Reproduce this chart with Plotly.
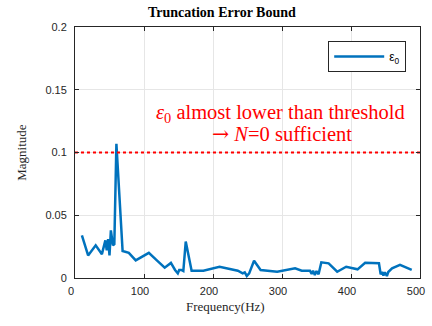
import plotly.graph_objects as go

# Truncation error bound epsilon_0 versus frequency
freq = [10, 19, 30, 39, 44, 46, 48, 50, 52, 55, 57, 60, 69, 78, 88, 107,
        119, 130, 139, 142, 145, 149, 151, 154, 157, 160.5, 169, 186, 209.5,
        236, 243, 246, 249, 252.4, 259.5, 269, 293, 319, 328.6, 340.5, 343,
        345, 347.6, 350, 353, 357, 367.6, 380, 393, 409.5, 420.5, 440.5, 443,
        445, 447, 449, 452, 454, 459.5, 471, 488]
eps0 = [0.034, 0.018, 0.026, 0.019, 0.030, 0.022, 0.031, 0.018, 0.038, 0.026,
        0.027, 0.107, 0.0215, 0.020, 0.014, 0.020, 0.0138, 0.0082, 0.012,
        0.0085, 0.0064, 0.0037, 0.0064, 0.0064, 0.0055, 0.029, 0.0058, 0.0058,
        0.009, 0.0058, 0.0037, 0.0045, 0.0016, 0.0037, 0.0138, 0.0064, 0.005,
        0.0077, 0.0058, 0.0058, 0.0032, 0.0058, 0.0024, 0.0055, 0.0030, 0.0125,
        0.0117, 0.005, 0.009, 0.0069, 0.0122, 0.0117, 0.003, 0.0048, 0.002,
        0.0045, 0.0016, 0.0048, 0.0077, 0.0104, 0.0064]

threshold = 0.1
x_ticks = [0, 100, 200, 300, 400, 500]
y_ticks = [0, 0.05, 0.1, 0.15, 0.2]
y_tick_text = ["0", "0.05", "0.1", "0.15", "0.2"]

AX = "#262626"
TIMES = "Liberation Serif, Times New Roman, serif"
SANS = "Liberation Sans, Arial, Helvetica, sans-serif"

# plot area in pixels: x 75..425, y 27..278
L, R, T, B = 75, 425, 27, 278


def px_x(p):
    return (p - L) / (R - L)


def px_y(p):
    return (B - p) / (B - T)


fig = go.Figure()
fig.add_trace(go.Scatter(
    x=freq, y=eps0, mode="lines", name="\u03b5<sub>0</sub>",
    line=dict(color="#0072BD", width=2.5),
))
fig.add_trace(go.Scatter(
    x=[0, 500], y=[threshold, threshold], mode="lines", showlegend=False,
    line=dict(color="#FF0000", width=2, dash="3px,3px"),
))

red = dict(family=TIMES, size=20.5, color="#FF0000")
fig.add_annotation(x=px_x(283), y=px_y(113), xref="paper", yref="paper",
                   xanchor="center", yanchor="middle", showarrow=False,
                   text="<i>\u03b5</i><sub>0</sub> almost lower than threshold", font=red)
fig.add_annotation(x=px_x(285), y=px_y(134), xref="paper", yref="paper",
                   xanchor="center", yanchor="middle", showarrow=False,
                   text="<span style=\"font-family:'DejaVu Serif'\">\u2192</span> <i>N</i>=0 sufficient",
                   font=red)

# title and axis labels
fig.add_annotation(x=px_x(224), y=px_y(12), xref="paper", yref="paper",
                   xanchor="center", yanchor="middle", showarrow=False,
                   text="<b>Truncation Error Bound</b>",
                   font=dict(family=TIMES, size=14, color="#000000"))
fig.add_annotation(x=px_x(228), y=px_y(306), xref="paper", yref="paper",
                   xanchor="center", yanchor="middle", showarrow=False,
                   text="Frequency(Hz)",
                   font=dict(family=TIMES, size=13, color=AX))
fig.add_annotation(x=px_x(20), y=px_y(152), xref="paper", yref="paper",
                   xanchor="center", yanchor="middle", showarrow=False,
                   text="Magnitude", textangle=-90,
                   font=dict(family=TIMES, size=13, color=AX))

axis_common = dict(
    showline=True, linecolor=AX, linewidth=1, mirror="ticks",
    ticks="inside", ticklen=4, tickcolor=AX,
    showgrid=True, gridcolor="#E6E6E6", gridwidth=1,
    zeroline=False, tickfont=dict(family=SANS, size=11, color=AX),
)

fig.update_layout(
    width=432, height=326,
    margin=dict(l=L, r=432 - R, t=T, b=326 - B),
    paper_bgcolor="white", plot_bgcolor="white",
    xaxis=dict(range=[0, 500], tickvals=x_ticks, ticklabeloverflow="allow",
               ticklabelshift=-4, ticklabelstandoff=3, **axis_common),
    yaxis=dict(range=[0, 0.2], tickvals=y_ticks, ticktext=y_tick_text,
               ticklabelstandoff=5, **axis_common),
    legend=dict(x=px_x(411), y=px_y(41), xanchor="right", yanchor="top",
                bordercolor=AX, borderwidth=1, bgcolor="white", itemwidth=50,
                font=dict(family=SANS, size=12, color="#000000")),
    showlegend=True,
)

fig.write_html("out.html")
